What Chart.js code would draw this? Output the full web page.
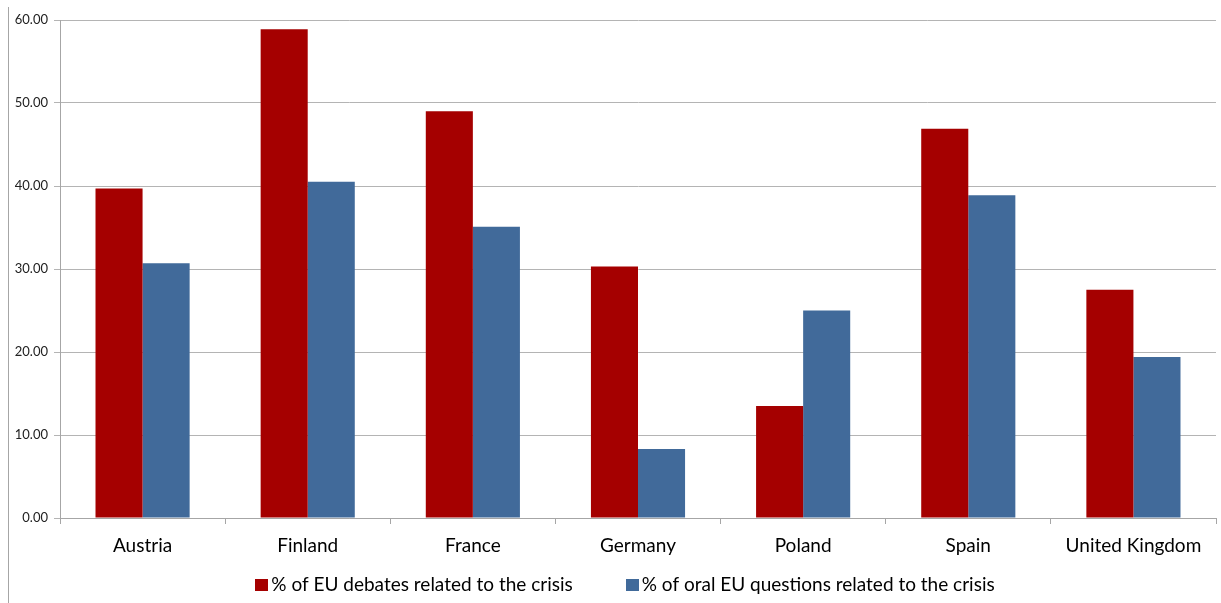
<!DOCTYPE html>
<html>
<head>
<meta charset="utf-8">
<style>
  html, body { margin: 0; padding: 0; background: #ffffff; }
  #wrap { width: 1221px; height: 603px; position: relative; }
</style>
<script src="https://cdn.jsdelivr.net/npm/chart.js@4.4.1/dist/chart.umd.min.js"></script>
</head>
<body>
<div id="wrap"><canvas id="c" width="1221" height="603"></canvas></div>
<script>
const countries = ['Austria', 'Finland', 'France', 'Germany', 'Poland', 'Spain', 'United Kingdom'];
const debatesShare = [39.7, 58.9, 49.0, 30.3, 13.5, 46.9, 27.5];
const questionsShare = [30.7, 40.5, 35.1, 8.3, 25.0, 38.9, 19.4];
const seriesNames = ['% of EU debates related to the crisis', '% of oral EU questions related to the crisis'];
const yTicks = [0, 10, 20, 30, 40, 50, 60];

const FONT = "Lato, 'Open Sans', 'Liberation Sans', sans-serif";

// thin frame line along the left edge of the chart box
const frameLine = {
  id: 'frameLine',
  beforeDraw(chart) {
    const ctx = chart.ctx;
    ctx.save();
    ctx.strokeStyle = '#a6a6a6';
    ctx.lineWidth = 1;
    ctx.beginPath();
    ctx.moveTo(8.5, 7);
    ctx.lineTo(8.5, 603);
    ctx.stroke();
    ctx.restore();
  }
};

// compact legend row under the category labels: square swatch, small gap, label
const bottomLegend = {
  id: 'bottomLegend',
  afterDraw(chart, args, opts) {
    const ctx = chart.ctx;
    const items = chart.data.datasets.map(ds => ({ text: ds.label, color: ds.backgroundColor }));
    ctx.save();
    ctx.font = `${opts.fontSize}px ${FONT}`;
    ctx.textBaseline = 'middle';
    ctx.textAlign = 'left';
    const widths = items.map(it => opts.boxW + opts.textGap + ctx.measureText(it.text).width);
    const total = widths.reduce((a, b) => a + b, 0) + opts.itemGap * (items.length - 1);
    let x = opts.centerX - total / 2;
    items.forEach((it, i) => {
      ctx.fillStyle = it.color;
      ctx.fillRect(Math.round(x), Math.round(opts.y - opts.boxH / 2), opts.boxW, opts.boxH);
      ctx.fillStyle = '#000000';
      ctx.fillText(it.text, x + opts.boxW + opts.textGap, opts.y);
      x += widths[i] + opts.itemGap;
    });
    ctx.restore();
  }
};

new Chart(document.getElementById('c'), {
  type: 'bar',
  data: {
    labels: countries,
    datasets: [
      { label: seriesNames[0], data: debatesShare, backgroundColor: '#a50000', borderWidth: 0 },
      { label: seriesNames[1], data: questionsShare, backgroundColor: '#416a9a', borderWidth: 0 }
    ]
  },
  options: {
    responsive: false,
    animation: false,
    devicePixelRatio: 1,
    layout: { padding: { left: 0, right: 5, top: 20, bottom: 0 } },
    datasets: { bar: { barPercentage: 1.0, categoryPercentage: 0.57 } },
    plugins: {
      tooltip: { enabled: false },
      legend: { display: false },
      bottomLegend: { centerX: 625, y: 585, boxW: 13, boxH: 12, textGap: 3, itemGap: 53, fontSize: 19 }
    },
    scales: {
      x: {
        grid: {
          offset: true,
          drawOnChartArea: false,
          drawTicks: true,
          tickLength: 6,
          color: '#a6a6a6'
        },
        border: { color: '#a6a6a6' },
        ticks: {
          color: '#000000',
          font: { family: FONT, size: 19 },
          padding: 10,
          maxRotation: 0,
          autoSkip: false
        },
        afterFit(scale) { scale.height = 85; }
      },
      y: {
        min: 0,
        max: 60,
        afterBuildTicks(scale) { scale.ticks = yTicks.map(v => ({ value: v })); },
        grid: {
          color: '#b4b4b4',
          drawTicks: true,
          tickLength: 6
        },
        border: { color: '#a6a6a6' },
        ticks: {
          color: '#222222',
          font: { family: FONT, size: 13 },
          padding: 6,
          callback: v => Number(v).toFixed(2)
        },
        afterFit(scale) { scale.width = 60; }
      }
    }
  },
  plugins: [frameLine, bottomLegend]
});
</script>
</body>
</html>
